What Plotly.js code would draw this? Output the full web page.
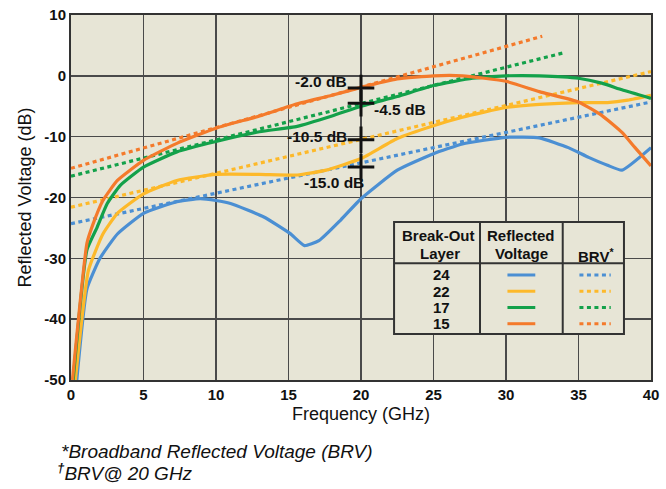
<!DOCTYPE html>
<html>
<head>
<meta charset="utf-8">
<script src="https://cdn.plot.ly/plotly-3.0.1.min.js"></script>
<style>
  html, body { margin: 0; padding: 0; background: #ffffff; }
  #chart { width: 666px; height: 489px; }
</style>
</head>
<body>
<div id="chart"></div>
<script>
// Break-out layers and their colours
const layers = ['24', '22', '17', '15'];
const layerColors = ['#4b8fd3', '#fdb92a', '#13a14a', '#f47a2b'];

// Reflected voltage (dB) vs frequency (GHz), one pair of arrays per layer
const freq24 = [0.4, 1.1, 2.0, 3.2, 5, 7.3, 8.9, 10, 11, 13.3, 15.1, 16.1, 17.1, 18.6, 20, 22.5, 25, 27, 30, 32.3, 34.3, 35.7, 37, 38, 40];
const refl24 = [-50, -35, -30, -26, -22.6, -20.7, -20.2, -20.5, -21, -23.2, -25.9, -27.9, -27.1, -23.7, -20.2, -15.5, -12.8, -11.2, -10.1, -10.2, -11.8, -13.4, -14.7, -15.5, -11.8];

const freq22 = [0.3, 1.2, 2.2, 3.2, 5, 7.3, 10, 13, 15.6, 17.6, 20, 22.5, 25, 27, 30, 32.3, 35, 37, 38.4, 40];
const refl22 = [-50, -32, -26, -22.6, -19.4, -17.2, -16.2, -16.2, -16.3, -15.5, -13.6, -10.3, -8.2, -6.8, -5.2, -4.7, -4.4, -4.4, -4.0, -3.2];

const freq17 = [0.15, 1.1, 1.8, 2.5, 3.4, 5, 7.3, 10, 13, 15.6, 18, 20, 22.5, 25, 27.7, 30, 32.3, 35, 36.6, 38, 40];
const refl17 = [-50, -28.6, -24.9, -21, -18, -15, -12.5, -10.8, -9.2, -8.3, -6.6, -5.0, -3.4, -1.6, -0.4, 0, 0, -0.4, -1.2, -2.3, -3.7];

const freq15 = [0.1, 1.1, 1.5, 2.2, 3.2, 5, 7.3, 10, 13, 15.6, 18, 20, 22.5, 25, 27, 30, 32.3, 35, 36.6, 38, 38.9, 40];
const refl15 = [-50, -27.5, -24.5, -20.5, -17.2, -13.9, -11.1, -8.6, -6.6, -4.6, -3.2, -1.9, -0.5, 0, 0, -0.9, -2.6, -4.3, -6.5, -9.3, -11.8, -14.8];

// Broadband reflected voltage (BRV) trend lines, end points per layer
const brvFreq24 = [0, 40];   const brv24 = [-24.3, -4.3];
const brvFreq22 = [0, 40];   const brv22 = [-21.6, 0.7];
const brvFreq17 = [0, 34];   const brv17 = [-16.5, 3.8];
const brvFreq15 = [0, 32.5]; const brv15 = [-15.2, 6.5];

// BRV read at 20 GHz for each layer
const brvMarkFreq = 20;
const brvAt20 = [-15.0, -10.5, -4.5, -2.0];

// Axis ticks
const xTicks = [0, 5, 10, 15, 20, 25, 30, 35, 40];
const yTicks = [10, 0, -10, -20, -30, -40, -50];

const solidSets = [[freq24, refl24], [freq22, refl22], [freq17, refl17], [freq15, refl15]];
const brvSets = [[brvFreq24, brv24], [brvFreq22, brv22], [brvFreq17, brv17], [brvFreq15, brv15]];

const FONT = '"Liberation Sans", Arial, Helvetica, sans-serif';
const PLOT_BG = '#e7e5d6';
const GRID = '#4a4a4a';
const INK = '#111111';

const traces = [];

// dotted BRV lines first, so the measured curves sit on top
brvSets.forEach(([x, y], i) => {
  traces.push({
    x: x, y: y, type: 'scatter', mode: 'lines',
    line: { color: layerColors[i], width: 3.2, dash: '4px,3.5px' },
    hoverinfo: 'skip', showlegend: false
  });
});

solidSets.forEach(([x, y], i) => {
  traces.push({
    x: x, y: y, type: 'scatter', mode: 'lines',
    line: { color: layerColors[i], width: 3.2, shape: 'spline', smoothing: 0.45 },
    hoverinfo: 'skip', showlegend: false
  });
});

// crosshair markers at 20 GHz
traces.push({
  x: brvAt20.map(() => brvMarkFreq), y: brvAt20,
  type: 'scatter', mode: 'markers',
  marker: { symbol: 'cross-thin', size: 19, color: INK, line: { width: 3, color: INK } },
  hoverinfo: 'skip', showlegend: false, cliponaxis: false
});

// labels next to each crosshair
const labelPlacement = {
  '-15.0': { xanchor: 'center', xshift: -27, yshift: -15 },
  '-10.5': { xanchor: 'right', xshift: -12, yshift: 3 },
  '-4.5':  { xanchor: 'left',  xshift: 11, yshift: -6 },
  '-2.0':  { xanchor: 'right', xshift: -12, yshift: 7 }
};
const annotations = brvAt20.map(v => {
  const p = labelPlacement[v.toFixed(1)];
  return {
    x: brvMarkFreq, y: v, xref: 'x', yref: 'y',
    text: v.toFixed(1) + ' dB', showarrow: false,
    xanchor: p.xanchor, yanchor: 'middle', xshift: p.xshift, yshift: p.yshift,
    font: { family: FONT, size: 15.5, color: INK, weight: 'bold' }
  };
});

// legend table (paper coordinates)
const tbl = { x0: 0.557, x1: 0.9534, y0: 0.126, y1: 0.4329, c1: 0.7052, c2: 0.8478, h: 0.3197 };
const rule = { color: '#333', width: 2 };
const shapes = [
  { type: 'rect', xref: 'paper', yref: 'paper', x0: tbl.x0, x1: tbl.x1, y0: tbl.y0, y1: tbl.y1,
    fillcolor: PLOT_BG, line: rule, layer: 'above' },
  { type: 'line', xref: 'paper', yref: 'paper', x0: tbl.c1, x1: tbl.c1, y0: tbl.y0, y1: tbl.y1, line: rule, layer: 'above' },
  { type: 'line', xref: 'paper', yref: 'paper', x0: tbl.c2, x1: tbl.c2, y0: tbl.y0, y1: tbl.y1, line: rule, layer: 'above' },
  { type: 'line', xref: 'paper', yref: 'paper', x0: tbl.x0, x1: tbl.x1, y0: tbl.h, y1: tbl.h, line: rule, layer: 'above' }
];

const headFont = { family: FONT, size: 15, color: INK, weight: 'bold' };
const colLayer = 0.636;
const colRefl = (tbl.c1 + tbl.c2) / 2;
const colBrv = (tbl.c2 + tbl.x1) / 2;
const headLine1 = 0.3955;
const headLine2 = 0.3475;
function cell(text, x, y, font) {
  return { xref: 'paper', yref: 'paper', x: x, y: y, text: text, showarrow: false,
    font: font, xanchor: 'center', yanchor: 'middle' };
}
annotations.push(
  cell('Break-Out', colLayer - 0.003, headLine1, headFont),
  cell('Layer', colLayer, headLine2, headFont),
  cell('Reflected', colRefl, headLine1, headFont),
  cell('Voltage', colRefl, headLine2, headFont),
  cell('BRV<sup>*</sup>', colBrv + 0.004, 0.342, headFont)
);

const rowTop = 0.2877;
const rowStep = 0.0445;
layers.forEach((name, i) => {
  const ry = rowTop - i * rowStep;
  annotations.push(cell(name, colLayer + 0.002, ry, { family: FONT, size: 15, color: INK, weight: 'bold' }));
  shapes.push({ type: 'line', xref: 'paper', yref: 'paper', x0: colRefl - 0.024, x1: colRefl + 0.024, y0: ry, y1: ry,
    line: { color: layerColors[i], width: 3 }, layer: 'above' });
  shapes.push({ type: 'line', xref: 'paper', yref: 'paper', x0: colBrv - 0.024, x1: colBrv + 0.03, y0: ry, y1: ry,
    line: { color: layerColors[i], width: 3, dash: '4px,3.5px' }, layer: 'above' });
});

// footnotes below the axis
annotations.push(
  { xref: 'paper', yref: 'paper', x: -0.02, y: -0.195, text: '<i>*Broadband Reflected Voltage (BRV)</i>',
    showarrow: false, xanchor: 'left', yanchor: 'middle', font: { family: FONT, size: 19, color: INK } },
  { xref: 'paper', yref: 'paper', x: -0.028, y: -0.252, text: '<i><b><sup>†</sup></b>BRV@ 20 GHz</i>',
    showarrow: false, xanchor: 'left', yanchor: 'middle', font: { family: FONT, size: 19, color: INK } }
);

const layout = {
  width: 666, height: 489,
  margin: { l: 71, r: 15, t: 15, b: 109, pad: 0 },
  paper_bgcolor: '#ffffff',
  plot_bgcolor: PLOT_BG,
  font: { family: FONT, color: INK },
  showlegend: false,
  xaxis: {
    range: [0, 40], tickvals: xTicks, ticktext: xTicks.map(String),
    showgrid: true, gridcolor: GRID, gridwidth: 1.4, zeroline: false,
    showline: true, linecolor: '#333', linewidth: 2, mirror: true,
    ticks: '', ticklen: 0,
    tickfont: { family: FONT, size: 15, color: INK, weight: 'bold' },
    title: { text: 'Frequency (GHz)', font: { family: FONT, size: 18, color: INK }, standoff: 5 }
  },
  yaxis: {
    range: [-50, 10], tickvals: yTicks, ticktext: yTicks.map(String),
    showgrid: true, gridcolor: GRID, gridwidth: 1.4, zeroline: false,
    showline: true, linecolor: '#333', linewidth: 2, mirror: true,
    ticks: '', ticklen: 0,
    tickfont: { family: FONT, size: 15, color: INK, weight: 'bold' },
    title: { text: 'Reflected Voltage (dB)', font: { family: FONT, size: 18, color: INK }, standoff: 8 }
  },
  shapes: shapes,
  annotations: annotations
};

Plotly.newPlot('chart', traces, layout, { displayModeBar: false, staticPlot: true });
</script>
</body>
</html>
